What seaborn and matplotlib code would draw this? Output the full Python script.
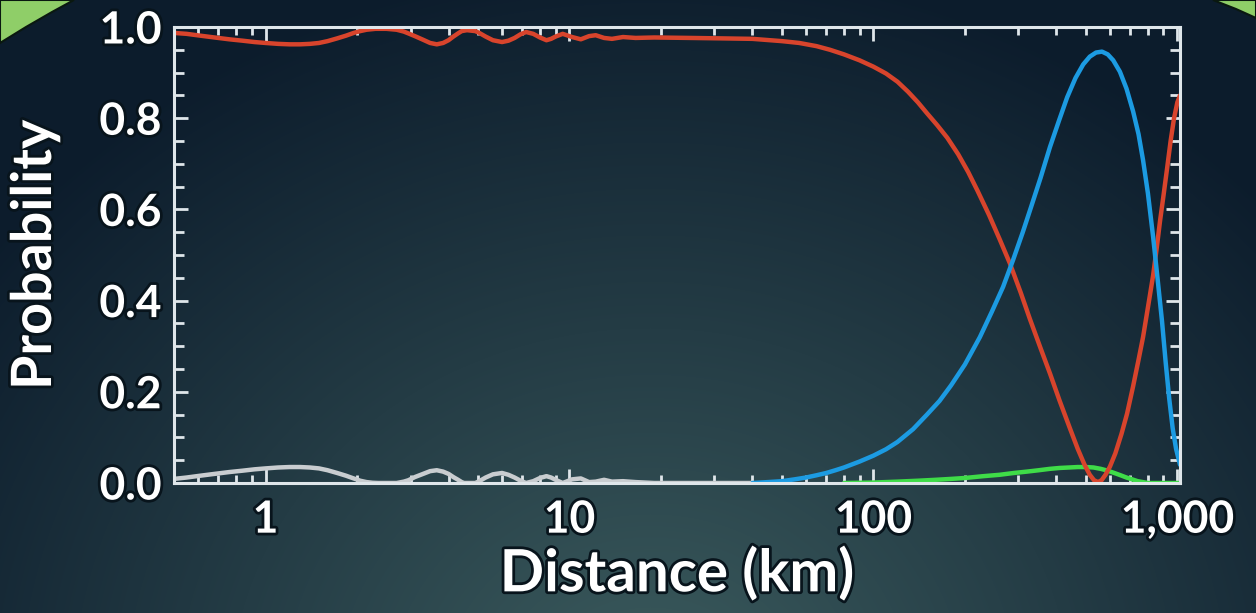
import numpy as np
import pandas as pd
import matplotlib
matplotlib.use("Agg")
import matplotlib.pyplot as plt
import seaborn as sns
from matplotlib import patheffects as pe
from matplotlib.ticker import FixedLocator, FixedFormatter, NullFormatter, MultipleLocator
from matplotlib.patches import Polygon

# ---------------- data ----------------
red_km = [0.5, 0.55, 0.61, 0.68, 0.76, 0.84, 0.92, 1.0, 1.1, 1.2, 1.3, 1.4, 1.5, 1.6, 1.72,
          1.84, 1.95, 2.05, 2.15, 2.3, 2.5, 2.7, 2.85, 2.95, 3.1, 3.3, 3.48, 3.66, 3.84, 4.0,
          4.15, 4.3, 4.42, 4.6, 4.9, 5.05, 5.3, 5.6, 6.0, 6.3, 6.6, 6.9, 7.2, 7.6, 8.0, 8.4,
          8.7, 9.0, 9.5, 10.2, 10.9, 11.6, 12.2, 13.0, 13.8, 15.0, 16.5, 19, 25, 32,
          40, 50, 57, 65, 72, 80, 90, 100, 110, 120, 130, 140, 150, 162, 175, 190, 205, 220,
          240, 260, 281, 305, 327, 355, 381, 410, 443, 470, 495, 515, 532, 548, 563, 580,
          600, 625, 655, 683, 715, 745, 771, 800, 832, 855, 877, 900, 925, 950, 975, 1000, 1020]
red_p = [0.987, 0.985, 0.981, 0.977, 0.973, 0.970, 0.967, 0.965, 0.963, 0.962, 0.962, 0.963,
         0.965, 0.969, 0.975, 0.981, 0.987, 0.991, 0.994, 0.996, 0.996, 0.994, 0.990, 0.986,
         0.980, 0.972, 0.965, 0.962, 0.965, 0.971, 0.979, 0.986, 0.991, 0.993, 0.991, 0.987,
         0.979, 0.971, 0.967, 0.970, 0.976, 0.984, 0.989, 0.985, 0.977, 0.971, 0.974, 0.979,
         0.985, 0.978, 0.973, 0.980, 0.982, 0.976, 0.974, 0.978, 0.976, 0.977, 0.976, 0.975,
         0.974, 0.969, 0.965, 0.958, 0.950, 0.940, 0.927, 0.913, 0.898, 0.880, 0.858, 0.835,
         0.811, 0.785, 0.757, 0.721, 0.682, 0.641, 0.588, 0.535, 0.482, 0.418, 0.360, 0.295,
         0.240, 0.180, 0.120, 0.075, 0.040, 0.018, 0.006, 0.002, 0.006, 0.018, 0.036, 0.065,
         0.108, 0.152, 0.212, 0.270, 0.320, 0.385, 0.455, 0.515, 0.575, 0.630, 0.690, 0.750,
         0.800, 0.835, 0.850]

blue_km = [40, 45, 50, 55, 60, 65, 70, 75, 80, 90, 100, 110, 120, 135, 150, 165, 180, 200,
           224, 245, 267, 288, 310, 330, 355, 381, 408, 434, 462, 490, 515, 540, 565, 590,
           615, 647, 680, 715, 745, 771, 800, 832, 860, 890, 915, 940, 965, 990, 1020]
blue_p = [0.000, 0.002, 0.004, 0.008, 0.012, 0.017, 0.022, 0.028, 0.034, 0.047, 0.060, 0.074,
          0.090, 0.118, 0.150, 0.180, 0.214, 0.260, 0.320, 0.375, 0.430, 0.489, 0.550, 0.605,
          0.670, 0.737, 0.795, 0.846, 0.888, 0.918, 0.935, 0.944, 0.946, 0.940, 0.927, 0.902,
          0.865, 0.815, 0.765, 0.708, 0.635, 0.540, 0.450, 0.355, 0.265, 0.185, 0.120, 0.075,
          0.040]

green_km = [80, 100, 120, 140, 160, 180, 200, 230, 260, 290, 320, 350, 380, 410, 440, 470,
            500, 530, 560, 590, 620, 650, 680, 710, 740, 770, 800, 1020]
green_p = [0.000, 0.001, 0.003, 0.005, 0.007, 0.009, 0.011, 0.015, 0.018, 0.022, 0.025,
           0.028, 0.031, 0.033, 0.034, 0.035, 0.035, 0.034, 0.031, 0.027, 0.022, 0.017,
           0.012, 0.008, 0.004, 0.002, 0.000, 0.000]

gray_km = [0.5, 0.55, 0.61, 0.68, 0.76, 0.84, 0.92, 1.0, 1.1, 1.2, 1.3, 1.4, 1.5, 1.6, 1.72,
           1.84, 1.95, 2.05, 2.15, 2.25, 2.35, 2.7, 2.85, 2.95, 3.1, 3.3, 3.48, 3.66, 3.84,
           4.0, 4.15, 4.3, 4.42, 4.5, 4.9, 5.05, 5.3, 5.6, 6.0, 6.3, 6.6, 6.9, 7.2, 7.6, 8.0,
           8.4, 8.7, 9.0, 9.5, 10.2, 10.9, 11.6, 12.2, 13.0, 13.8, 15.0, 16.5, 19.0, 40.0]
gray_p = [0.009, 0.012, 0.016, 0.020, 0.024, 0.027, 0.030, 0.032, 0.034, 0.035, 0.035,
          0.034, 0.032, 0.028, 0.022, 0.016, 0.010, 0.005, 0.002, 0.0005, 0.000, 0.000,
          0.003, 0.006, 0.013, 0.020, 0.026, 0.028, 0.025, 0.020, 0.013, 0.007, 0.002,
          0.000, 0.000, 0.004, 0.012, 0.019, 0.022, 0.018, 0.012, 0.005, 0.000, 0.004,
          0.011, 0.015, 0.012, 0.007, 0.000, 0.008, 0.010, 0.002, 0.003, 0.007, 0.003,
          0.004, 0.002, 0.000, 0.000]

x_ticks = [1, 10, 100, 1000]
x_tick_labels = ["1", "10", "100", "1,000"]
y_ticks = [0.0, 0.2, 0.4, 0.6, 0.8, 1.0]
y_tick_labels = ["0.0", "0.2", "0.4", "0.6", "0.8", "1.0"]

series_order = ["gray", "green", "red", "blue"]
palette = {"gray": "#c9cdd0", "green": "#3fdc48", "red": "#d8442c", "blue": "#1c9be2"}

df = pd.concat([
    pd.DataFrame({"km": gray_km, "p": gray_p, "s": "gray"}),
    pd.DataFrame({"km": green_km, "p": green_p, "s": "green"}),
    pd.DataFrame({"km": red_km, "p": red_p, "s": "red"}),
    pd.DataFrame({"km": blue_km, "p": blue_p, "s": "blue"}),
], ignore_index=True)

# ---------------- style ----------------
sns.set_style("ticks")
plt.rcParams["font.family"] = ["Lato", "DejaVu Sans"]
plt.rcParams["font.weight"] = "bold"

W, H = 1256, 613
fig = plt.figure(figsize=(W / 100, H / 100), dpi=100)

# background gradient
bg = fig.add_axes([0, 0, 1, 1])
bg.set_axis_off()
yy, xx = np.mgrid[0:H, 0:W]
d = np.sqrt(((xx - 650) / 700.0) ** 2 + ((yy - 700) / 620.0) ** 2)
t = np.clip(d / 1.2, 0, 1)[..., None]
c_center = np.array([0x3c, 0x5c, 0x5e]) / 255.0
c_edge = np.array([0x0c, 0x1c, 0x2c]) / 255.0
img = c_center * (1 - t) + c_edge * t
bg.imshow(img, extent=[0, 1, 0, 1], aspect="auto", origin="upper")
bg.set_xlim(0, 1)
bg.set_ylim(0, 1)

def px(pts):
    return [(x / W, 1 - y / H) for x, y in pts]

bg.add_patch(Polygon(px([(0, 0), (74, 0), (52, 12), (26, 27), (0, 43)]),
                     closed=True, facecolor="#8fce68", edgecolor="#0a1810", lw=1.5))
bg.add_patch(Polygon(px([(1213, 0), (1256, 0), (1256, 18), (1236, 9)]),
                     closed=True, facecolor="#8fce68", edgecolor="#0a1810", lw=1.5))

# main axes
ax = fig.add_axes([174 / W, 1 - 483 / H, (1180 - 174) / W, (483 - 27) / H])
ax.set_facecolor("none")

sns.lineplot(data=df, x="km", y="p", hue="s", hue_order=series_order, palette=palette,
             estimator=None, sort=False, lw=3.2, legend=False, ax=ax)
for ln in ax.get_lines():
    ln.set_solid_joinstyle("round")
    ln.set_solid_capstyle("round")

ax.set_xscale("log")
ax.set_xlim(0.5, 1020)
ax.set_ylim(0, 1)

spine_c = "#dfe6ea"
for s in ax.spines.values():
    s.set_color(spine_c)
    s.set_linewidth(2.2)
    s.set_visible(True)

ax.xaxis.set_major_locator(FixedLocator(x_ticks))
ax.xaxis.set_major_formatter(FixedFormatter(x_tick_labels))
minor_x = [m * 10.0 ** e for e in range(-1, 3) for m in range(2, 10)]
minor_x = [v for v in minor_x if 0.5 <= v <= 1020]
ax.xaxis.set_minor_locator(FixedLocator(minor_x))
ax.xaxis.set_minor_formatter(NullFormatter())
ax.yaxis.set_major_locator(FixedLocator(y_ticks))
ax.yaxis.set_major_formatter(FixedFormatter(y_tick_labels))
ax.yaxis.set_minor_locator(MultipleLocator(0.05))

ax.tick_params(which="both", direction="in", top=True, right=True, color=spine_c,
               width=2.0, labelcolor="white", labelsize=32)
ax.tick_params(axis="x", which="major", length=10, pad=12)
ax.tick_params(axis="x", which="minor", length=6)
ax.tick_params(axis="y", which="major", length=10, pad=9)
ax.tick_params(axis="y", which="minor", length=7)

stroke = [pe.withStroke(linewidth=4, foreground="#08141c")]
for lab in ax.get_xticklabels() + ax.get_yticklabels():
    lab.set_fontweight("bold")
    lab.set_path_effects(stroke)

ax.set_xlabel("Distance (km)", fontsize=42, fontweight="bold", color="white",
              va="center", ha="center", path_effects=stroke)
ax.xaxis.set_label_coords(0.5, -0.2)
ax.set_ylabel("Probability", fontsize=40, fontweight="bold", color="white",
              va="center", ha="center", path_effects=stroke)
ax.yaxis.set_label_coords((35 - 174) / 1006, 0.5)

fig.savefig("out.png", dpi=100)
